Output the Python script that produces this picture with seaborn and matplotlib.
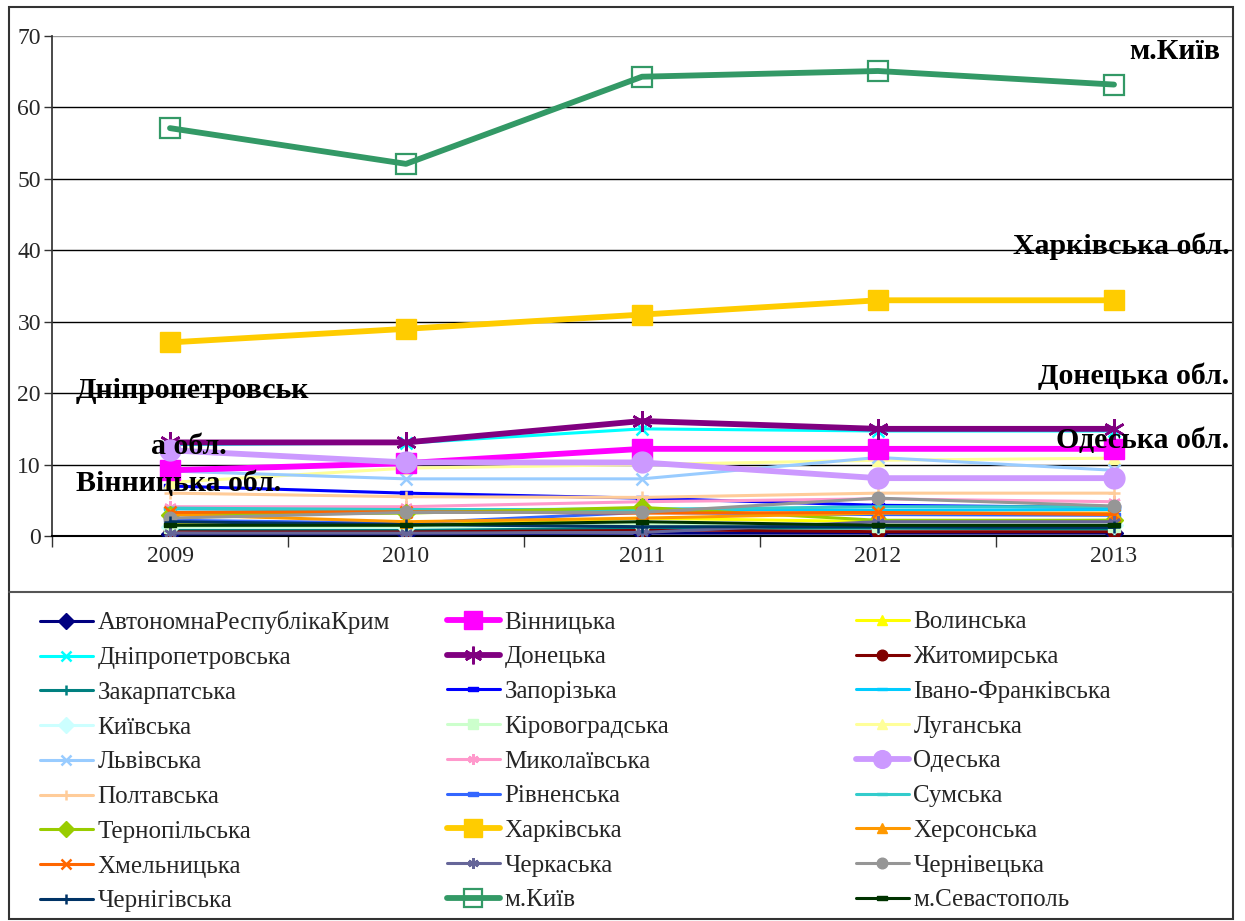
import numpy as np
import pandas as pd
import matplotlib
matplotlib.use("Agg")
import matplotlib.pyplot as plt
import seaborn as sns
from matplotlib.patches import Rectangle
from matplotlib.lines import Line2D

years = ["2009", "2010", "2011", "2012", "2013"]

# values per region, 2009..2013
krym = [0.3, 0.3, 0.4, 0.4, 0.4]
vinnytska = [9.2, 10.2, 12.2, 12.2, 12.2]
volynska = [1.6, 1.5, 2.5, 2.0, 2.2]
dnipro = [12.8, 13.0, 15.0, 14.7, 14.7]
donetska = [13.1, 13.1, 16.1, 15.0, 15.0]
zhytomyrska = [0.8, 0.7, 0.9, 0.6, 0.6]
zakarpatska = [1.0, 1.0, 1.2, 1.1, 1.0]
zaporizka = [7.0, 6.0, 5.3, 4.3, 4.0]
ivano = [3.8, 3.6, 3.8, 3.6, 3.7]
kyivska = [1.2, 1.2, 1.5, 1.5, 1.5]
kirovohradska = [1.3, 1.3, 1.6, 1.4, 1.4]
luhanska = [7.5, 9.5, 10.0, 10.6, 10.9]
lvivska = [9.1, 8.0, 8.0, 11.0, 9.2]
mykolaivska = [4.1, 4.1, 4.8, 5.2, 4.8]
odeska = [12.0, 10.3, 10.3, 8.1, 8.1]
poltavska = [6.0, 5.5, 5.4, 6.0, 6.0]
rivnenska = [2.2, 1.8, 3.3, 3.0, 2.9]
sumska = [3.9, 3.7, 3.7, 4.1, 4.1]
ternopilska = [3.0, 3.2, 4.0, 2.2, 2.2]
kharkivska = [27.1, 29.0, 31.0, 33.0, 33.0]
khersonska = [3.0, 2.0, 2.5, 3.2, 3.2]
khmelnytska = [3.3, 3.4, 3.2, 3.3, 3.0]
cherkaska = [0.4, 0.4, 0.5, 2.0, 2.0]
chernivetska = [2.5, 3.3, 3.3, 5.3, 4.2]
chernihivska = [2.0, 1.6, 1.3, 1.3, 1.2]
kyiv_city = [57.1, 52.1, 64.3, 65.1, 63.2]
sevastopol = [1.5, 1.5, 2.0, 1.5, 1.5]

names = ["АвтономнаРеспублікаКрим", "Вінницька", "Волинська",
         "Дніпропетровська", "Донецька", "Житомирська",
         "Закарпатська", "Запорізька", "Івано-Франківська",
         "Київська", "Кіровоградська", "Луганська",
         "Львівська", "Миколаївська", "Одеська",
         "Полтавська", "Рівненська", "Сумська",
         "Тернопільська", "Харківська", "Херсонська",
         "Хмельницька", "Черкаська", "Чернівецька",
         "Чернігівська", "м.Київ", "м.Севастополь"]
series = [krym, vinnytska, volynska, dnipro, donetska, zhytomyrska,
          zakarpatska, zaporizka, ivano, kyivska, kirovohradska, luhanska,
          lvivska, mykolaivska, odeska, poltavska, rivnenska, sumska,
          ternopilska, kharkivska, khersonska, khmelnytska, cherkaska,
          chernivetska, chernihivska, kyiv_city, sevastopol]

# styles (Excel-like)
colors = ["#000080", "#FF00FF", "#FFFF00", "#00FFFF", "#800080", "#800000",
          "#008080", "#0000FF", "#00CCFF", "#CCFFFF", "#CCFFCC", "#FFFF99",
          "#99CCFF", "#FF99CC", "#CC99FF", "#FFCC99", "#3366FF", "#33CCCC",
          "#99CC00", "#FFCC00", "#FF9900", "#FF6600", "#666699", "#969696",
          "#003366", "#339966", "#003300"]
dash = [(-1, -0.35), (1, -0.35), (1, 0.35), (-1, 0.35), (-1, -0.35)]
ldash = [(-1.4, -0.3), (1.4, -0.3), (1.4, 0.3), (-1.4, 0.3), (-1.4, -0.3)]
star = (6, 2, 0)
markers = ["D", "s", "^", "x", star, "o", "+", dash, ldash,
           "D", "s", "^", "x", star, "o", "+", dash, ldash,
           "D", "s", "^", "x", star, "o", "+", "s", dash]
thick = {"Вінницька", "Донецька", "Одеська", "Харківська", "м.Київ"}

sns.set_theme(style="white")
plt.rcParams['font.family'] = ['Liberation Serif', 'DejaVu Serif']

fig = plt.figure(figsize=(12.45, 9.21), dpi=100)
ax = fig.add_axes([52 / 1245, 1 - 536 / 921, 1180 / 1245, 500 / 921])

handles = []
for i, (nm, vals) in enumerate(zip(names, series)):
    df = pd.DataFrame({"pos": np.arange(len(years)), "value": vals})
    big = nm in thick
    lw = 4.2 if big else 2.2
    ms = 15 if big else 9
    mfc = "none" if nm == "м.Київ" else colors[i]
    lined = markers[i] in ("x", "+") or markers[i] == star
    mew = 1.6 if nm == "м.Київ" else (1.8 if lined else 1.0)
    sns.lineplot(data=df, x="pos", y="value", ax=ax, color=colors[i],
                 marker=markers[i], markersize=ms, linewidth=lw,
                 markerfacecolor=mfc, markeredgecolor=colors[i],
                 markeredgewidth=mew, legend=False, zorder=3 + (1 if big else 0))
    handles.append(Line2D([], [], color=colors[i], marker=markers[i], lw=lw,
                          markersize=ms * 0.85, markerfacecolor=mfc,
                          markeredgecolor=colors[i], markeredgewidth=mew))

ax.set_xlim(-0.5, len(years) - 0.5)
ax.set_ylim(0, 70)
ax.set_yticks(range(0, 71, 10))
ax.set_xticks(np.arange(-0.5, len(years), 1.0))
ax.set_xticklabels([])
ax.set_xticks(np.arange(len(years)), minor=True)
ax.set_xticklabels(years, minor=True)
ax.tick_params(axis="x", which="minor", length=0, pad=7, labelsize=17)
ax.tick_params(axis="x", which="major", length=8, width=1, color="#333333",
               direction="out", bottom=True)
ax.tick_params(axis="y", length=6, width=1, color="#333333", direction="out",
               left=True, labelsize=17, pad=2)
ax.set_xlabel("")
ax.set_ylabel("")
ax.yaxis.grid(True, color="black", linewidth=1)
ax.xaxis.grid(False)
ax.yaxis.get_gridlines()[-1].set_color("#999999")
ax.set_axisbelow(True)
for s in ["top", "right"]:
    ax.spines[s].set_visible(False)
ax.spines["left"].set_color("#333333")
ax.spines["bottom"].set_color("black")
ax.spines["bottom"].set_linewidth(1.5)

# labels on the chart
tk = dict(fontsize=21.5, fontweight="bold", color="black", zorder=10)
ax.text(4.45, 67.8, "м.Київ", ha="right", va="center", **tk)
ax.text(4.49, 40.5, "Харківська обл.", ha="right", va="center", **tk)
ax.text(4.49, 22.3, "Донецька обл.", ha="right", va="center", **tk)
ax.text(4.49, 13.4, "Одеська обл.", ha="right", va="center", **tk)
ax.text(-0.40, 20.4, "Дніпропетровськ", ha="left", va="center", **tk)
ax.text(-0.08, 12.6, "а обл.", ha="left", va="center", **tk)
ax.text(-0.40, 7.3, "Вінницька обл.", ha="left", va="center", **tk)

# outer frame and separator
fig.patches.append(Rectangle((9 / 1245, 2 / 921), 1224 / 1245, 912 / 921,
                             transform=fig.transFigure, fill=False,
                             edgecolor="#333333", linewidth=1.5))
fig.lines.append(Line2D([9 / 1245, 1233 / 1245], [1 - 592 / 921] * 2,
                        transform=fig.transFigure, color="#555555", lw=1.5))

# legend in 3 columns, row-wise order
col_x = [40, 447, 856]
for c in range(3):
    idx = list(range(c, len(names), 3))
    fig.legend([handles[k] for k in idx], [names[k] for k in idx],
               loc="upper left", bbox_to_anchor=(col_x[c] / 1245, 1 - 611 / 921),
               frameon=False, fontsize=18, handlelength=2.1, handletextpad=0.2,
               labelspacing=0.49, borderaxespad=0, borderpad=0)

fig.savefig("out.png", dpi=100)
